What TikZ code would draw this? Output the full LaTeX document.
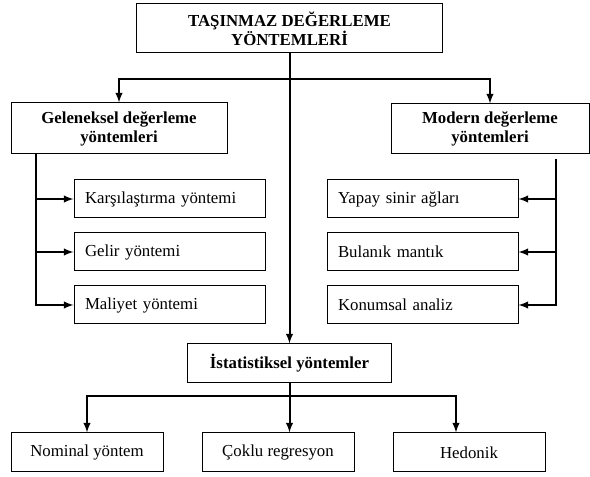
\documentclass[tikz,border=0pt]{standalone}
\usepackage{fontspec}
\setmainfont{Liberation Serif}
\usetikzlibrary{arrows,positioning}

\begin{document}
\begin{tikzpicture}[
        x=0.75pt, y=-0.75pt,
        font=\fontsize{12.6}{14.25}\selectfont,
        box/.style={rectangle, draw, line width=0.75pt, inner sep=0pt, minimum height=28.5pt},
        head/.style={box, font=\fontsize{12.6}{14.25}\selectfont\bfseries, align=center},
        item/.style={box, minimum width=143.25pt, text width=126.75pt, align=left},
        leaf/.style={box, minimum width=114pt, minimum height=29.25pt, align=center},
        line/.style={draw, line width=1.5pt, -latex}
      ]
        \useasboundingbox (0,0) rectangle (590,477);

        % Main heading
        \node [head, minimum width=229.5pt, minimum height=36.75pt] (root) at (289.5,28.5) {TAŞINMAZ DEĞERLEME\\YÖNTEMLERİ};

        % Second level
        \node [head, minimum width=162pt, minimum height=38.25pt] (gel) at (119,128.5) {Geleneksel değerleme\\yöntemleri};
        \node [head, minimum width=148.5pt, minimum height=37.5pt] (mod) at (490,129) {Modern değerleme\\yöntemleri};

        % Traditional methods
        \node [item] (kars) at (169.5,199) {Karşılaştırma yöntemi};
        \node [item, below=10.5pt of kars] (gelir) {Gelir yöntemi};
        \node [item, below=10.5pt of gelir] (maliyet) {Maliyet yöntemi};

        % Modern methods
        \node [item] (yapay) at (422.5,199) {Yapay sinir ağları};
        \node [item, below=10.5pt of yapay] (bulanik) {Bulanık mantık};
        \node [item, below=10.5pt of bulanik] (konum) {Konumsal analiz};

        % Statistical methods
        \node [head, minimum width=153pt, minimum height=29.25pt] (istat) at (289.5,363.5) {İstatistiksel yöntemler};
        \node [leaf] (nominal) at (87,452.5) {Nominal yöntem};
        \node [leaf, right=28.5pt of nominal] (coklu) {Çoklu regresyon};
        \node [leaf, right=28.5pt of coklu] (hedonik) {Hedonik};

        % Branch points
        \coordinate (hub) at (289.5,79);
        \coordinate (gbus) at (36,154);
        \coordinate (mbus) at (556,159);
        \coordinate (sbus) at (289.5,396);

        % Lines
        \draw [line] (root.south) -- (istat.north);
        \draw [line] (hub) -| (gel.north);
        \draw [line] (hub) -| (mod.north);
        \draw [line] (gbus) |- (kars.west);
        \draw [line] (gbus) |- (gelir.west);
        \draw [line] (gbus) |- (maliyet.west);
        \draw [line] (mbus) |- (yapay.east);
        \draw [line] (mbus) |- (bulanik.east);
        \draw [line] (mbus) |- (konum.east);
        \draw [line] (istat.south) -- (istat.south |- coklu.north);
        \draw [line] (sbus) -| (nominal.north);
        \draw [line] (sbus) -| ([xshift=-9.75pt]hedonik.north);
      \end{tikzpicture}
\end{document}
